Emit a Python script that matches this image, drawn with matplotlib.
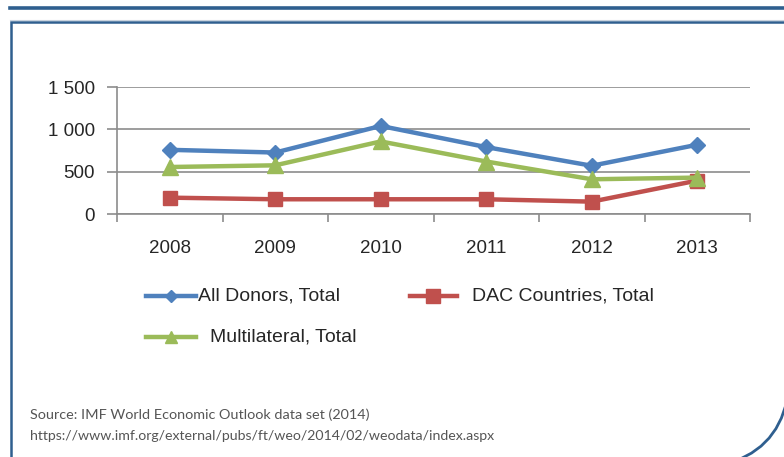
import matplotlib
matplotlib.use("Agg")
import matplotlib.pyplot as plt
from matplotlib.lines import Line2D
from matplotlib.path import Path
from matplotlib.patches import PathPatch
import numpy as np

years = ["2008", "2009", "2010", "2011", "2012", "2013"]
all_donors = [758, 726, 1040, 790, 570, 818]
dac_countries = [193, 174, 174, 174, 146, 395]
multilateral = [555, 575, 857, 620, 410, 430]
y_ticks = [0, 500, 1000, 1500]
y_tick_labels = ["0", "500", "1 000", "1 500"]

BLUE = "#4F81BD"
RED = "#C0504D"
GREEN = "#9BBB59"
FRAME = "#2F5F8F"
GRID = "#8C8C8C"
TEXT = "#262626"

W, H = 784, 457
fig = plt.figure(figsize=(W / 100, H / 100), dpi=100)
fig.patch.set_facecolor("white")


def fx(px):
    return px / W


def fy(py):
    return 1 - py / H


plt.rcParams["font.family"] = ["Liberation Sans", "DejaVu Sans"]

# decorative slide frame
fig.add_artist(Line2D([fx(10), fx(784)], [fy(8), fy(8)], color=FRAME, lw=2.6,
                      transform=fig.transFigure))
fig.add_artist(Line2D([fx(10), fx(784)], [fy(19.5), fy(19.5)], color="#C9D3DE", lw=0.8,
                      transform=fig.transFigure))
border = Path([(fx(786), fy(22)), (fx(11), fy(22)), (fx(11), fy(462))],
              [Path.MOVETO, Path.LINETO, Path.LINETO])
fig.add_artist(PathPatch(border, facecolor="none", edgecolor=FRAME, lw=1.8,
                         transform=fig.transFigure))
corner = Path([(fx(787), fy(400)), (fx(776), fy(452)), (fx(722), fy(465))],
              [Path.MOVETO, Path.CURVE3, Path.CURVE3])
fig.add_artist(PathPatch(corner, facecolor="none", edgecolor=FRAME, lw=2.0,
                         transform=fig.transFigure))

ax = fig.add_axes([fx(117), fy(214), fx(750) - fx(117), fy(87) - fy(214)])
x = np.arange(len(years))

ax.plot(x, all_donors, color=BLUE, lw=3.2, marker="D", ms=8.5, zorder=4)
ax.plot(x, dac_countries, color=RED, lw=3.2, marker="s", ms=10, zorder=3)
ax.plot(x, multilateral, color=GREEN, lw=3.2, marker="^", ms=11, zorder=5)

ax.set_xlim(-0.5, len(years) - 0.5)
ax.set_ylim(0, 1500)
ax.set_yticks(y_ticks)
ax.set_yticklabels(y_tick_labels, fontsize=13.5, color=TEXT)
ax.set_xticks(x)
ax.set_xticklabels(years, fontsize=13.5, color=TEXT)
ax.set_xticks(np.arange(-0.5, len(years), 1.0), minor=True)
ax.tick_params(axis="x", which="major", length=0, pad=19)
ax.tick_params(axis="x", which="minor", length=6, color=GRID, width=1.2)
ax.tick_params(axis="y", length=7.5, color=GRID, width=1.2, pad=8.5)
ax.yaxis.grid(True, color=GRID, lw=1.2)
ax.set_axisbelow(True)
for side in ["top", "right"]:
    ax.spines[side].set_visible(False)
for side in ["left", "bottom"]:
    ax.spines[side].set_color(GRID)
    ax.spines[side].set_linewidth(1.2)
ax.set_facecolor("none")

# legend entries: label, colour, marker, size, line start/end, row, text x
legend_items = [
    ("All Donors, Total", BLUE, "D", 6.5, 146, 196, 296, 198),
    ("DAC Countries, Total", RED, "s", 10, 410, 457, 296, 472),
    ("Multilateral, Total", GREEN, "^", 9, 146, 196, 337, 210),
]
for label, color, mk, ms, x0, x1, yy, tx in legend_items:
    fig.add_artist(Line2D([fx(x0), fx(x1)], [fy(yy), fy(yy)], color=color, lw=3.2,
                          transform=fig.transFigure))
    fig.add_artist(Line2D([fx((x0 + x1) / 2)], [fy(yy)], color=color, marker=mk, ms=ms,
                          lw=0, transform=fig.transFigure))
    fig.text(fx(tx), fy(yy), label, fontsize=14, color=TEXT, va="center", ha="left")

fig.text(fx(30), fy(415), "Source: IMF World Economic Outlook data set (2014)",
         fontsize=10.4, color="#555555", va="center", ha="left", family=["Lato", "DejaVu Sans"])
fig.text(fx(30), fy(436), "https://www.imf.org/external/pubs/ft/weo/2014/02/weodata/index.aspx",
         fontsize=10.2, color="#555555", va="center", ha="left", family=["Lato", "DejaVu Sans"])

fig.savefig("out.png", dpi=100, facecolor="white")
